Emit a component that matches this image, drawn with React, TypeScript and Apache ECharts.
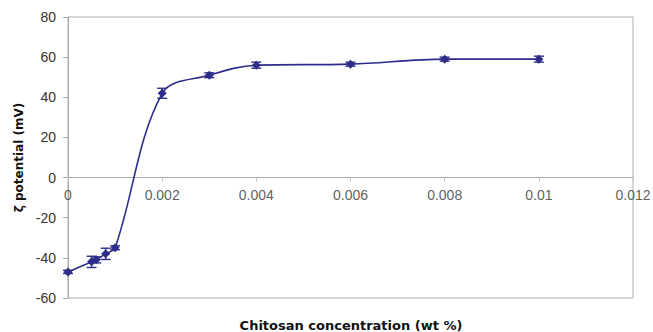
import React, { useEffect, useRef } from "react";
import * as echarts from "echarts";

const concentrations = [0, 0.0005, 0.0006, 0.0008, 0.001, 0.002, 0.003, 0.004, 0.006, 0.008, 0.01];
const zetaPotential = [-47, -42, -41, -38, -35, 42, 51, 56, 56.5, 59, 59];
const errors = [0.8, 2.8, 1.5, 2.8, 1, 2.5, 1.2, 1.5, 1, 1, 1.5];
const xTicks = [0, 0.002, 0.004, 0.006, 0.008, 0.01, 0.012];
const xTickLabels = ["0", "0.002", "0.004", "0.006", "0.008", "0.01", "0.012"];
const xTitle = "Chitosan concentration (wt %)";
const yTitle = "ζ potential (mV)";

const LINE = "#2e2d8a";
const FONT = "Liberation Sans, Arial, sans-serif";
const TITLE_FONT = "DejaVu Sans, sans-serif";

export default function App() {
  const ref = useRef<HTMLDivElement>(null);
  useEffect(() => {
    if (!ref.current) return;
    const chart = echarts.init(ref.current, undefined, { renderer: "svg" });
    const points = concentrations.map((x, i) => [x, zetaPotential[i]]);
    const errData = concentrations.map((x, i) => [x, zetaPotential[i], errors[i]]);
    const labelData = xTicks.map((x, i) => ({ value: [x, 0], name: xTickLabels[i] }));
    chart.setOption({
      animation: false,
      backgroundColor: "#ffffff",
      grid: {
        left: 68,
        right: 20,
        top: 17,
        bottom: 34,
        show: true,
        borderColor: "#b0b0b0",
        borderWidth: 1,
      },
      graphic: [
        {
          type: "text",
          x: 351,
          y: 325,
          style: {
            text: xTitle,
            font: `bold 13px ${TITLE_FONT}`,
            fill: "#111",
            align: "center",
            verticalAlign: "middle",
          },
        },
      ],
      xAxis: {
        type: "value",
        min: 0,
        max: 0.012,
        interval: 0.002,
        axisLine: { onZero: true, lineStyle: { color: "#a8a8a8", width: 1 } },
        axisTick: { show: true, length: 4, lineStyle: { color: "#c8c8c8" } },
        axisLabel: { show: false },
        splitLine: { show: false },
      },
      yAxis: {
        type: "value",
        min: -60,
        max: 80,
        interval: 20,
        name: yTitle,
        nameLocation: "middle",
        nameGap: 42,
        nameTextStyle: { color: "#111", fontSize: 12, fontWeight: "bold", fontFamily: TITLE_FONT },
        axisLine: { show: true, lineStyle: { color: "#a8a8a8", width: 1 } },
        axisTick: { show: true, length: 5, lineStyle: { color: "#a8a8a8" } },
        axisLabel: { color: "#333", fontSize: 14, fontFamily: FONT, margin: 12 },
        splitLine: { show: false },
      },
      series: [
        {
          type: "line",
          data: points,
          smooth: 0.35,
          symbol: "diamond",
          symbolSize: 9,
          lineStyle: { color: LINE, width: 1.6 },
          itemStyle: { color: LINE },
          z: 3,
        },
        {
          type: "custom",
          data: errData,
          z: 4,
          renderItem: (params: any, api: any) => {
            const x = api.value(0);
            const y = api.value(1);
            const e = api.value(2);
            const top = api.coord([x, y + e]);
            const bot = api.coord([x, y - e]);
            const w = 5;
            const style = { stroke: LINE, lineWidth: 1.4 };
            return {
              type: "group",
              children: [
                { type: "line", shape: { x1: top[0], y1: top[1], x2: bot[0], y2: bot[1] }, style },
                { type: "line", shape: { x1: top[0] - w, y1: top[1], x2: top[0] + w, y2: top[1] }, style },
                { type: "line", shape: { x1: bot[0] - w, y1: bot[1], x2: bot[0] + w, y2: bot[1] }, style },
              ],
            };
          },
        },
        {
          type: "scatter",
          data: labelData,
          symbolSize: 0,
          silent: true,
          z: 1,
          label: {
            show: true,
            position: "bottom",
            distance: 10,
            formatter: (p: any) => p.name,
            color: "#333",
            fontSize: 14,
            fontFamily: FONT,
          },
        },
      ],
    });
    return () => chart.dispose();
  }, []);
  return <div ref={ref} style={{ width: 653, height: 332, position: "absolute", left: 0, top: 0 }} />;
}
